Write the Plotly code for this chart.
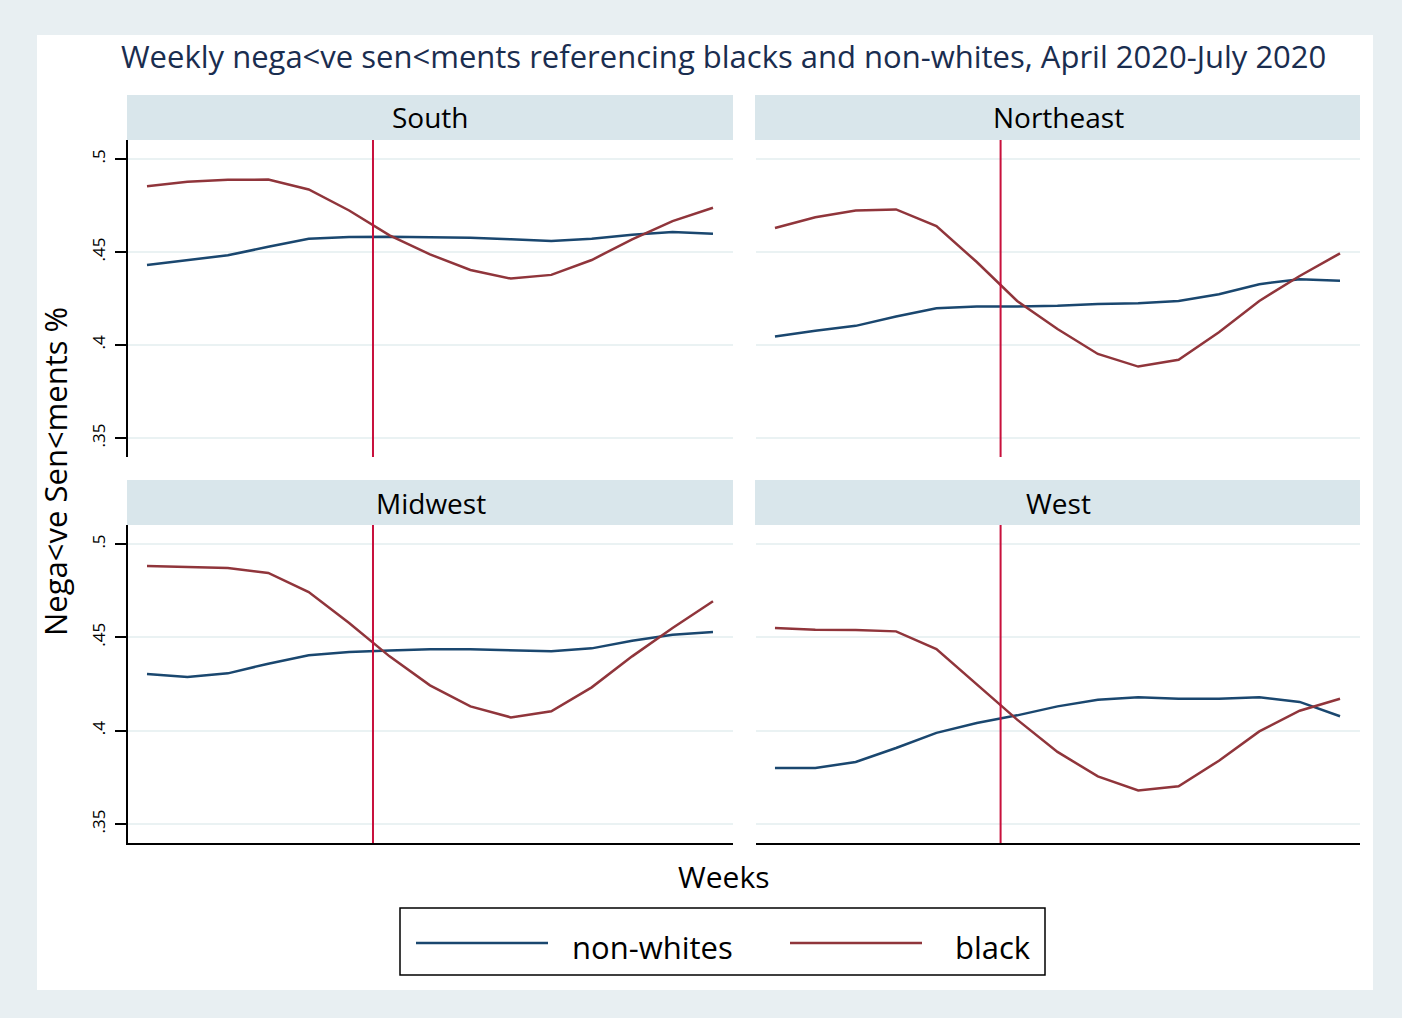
import plotly.graph_objects as go

# ---------------- data ----------------
WEEKS = list(range(1, 16))
EVENT_WEEK = 6.59
REGIONS = ["South", "Northeast", "Midwest", "West"]
SERIES = ["non-whites", "black"]

south_nonwhites = [0.4430, 0.4455, 0.4482, 0.4528, 0.4571, 0.4580, 0.4582, 0.4579,
                   0.4577, 0.4568, 0.4559, 0.4571, 0.4593, 0.4607, 0.4598]
south_black = [0.4854, 0.4877, 0.4888, 0.4889, 0.4836, 0.4723, 0.4589, 0.4487,
               0.4403, 0.4357, 0.4377, 0.4457, 0.4568, 0.4666, 0.4738]

northeast_nonwhites = [0.4046, 0.4077, 0.4103, 0.4153, 0.4198, 0.4207, 0.4207, 0.4211,
                       0.4220, 0.4225, 0.4237, 0.4273, 0.4327, 0.4354, 0.4345]
northeast_black = [0.4629, 0.4687, 0.4723, 0.4729, 0.4639, 0.4446, 0.4237, 0.4086,
                   0.3952, 0.3884, 0.3921, 0.4068, 0.4237, 0.4371, 0.4493]

midwest_nonwhites = [0.4304, 0.4287, 0.4307, 0.4359, 0.4404, 0.4421, 0.4430, 0.4436,
                     0.4436, 0.4429, 0.4425, 0.4441, 0.4482, 0.4514, 0.4529]
midwest_black = [0.4882, 0.4877, 0.4871, 0.4845, 0.4743, 0.4577, 0.4398, 0.4243,
                 0.4130, 0.4071, 0.4104, 0.4232, 0.4398, 0.4550, 0.4693]

west_nonwhites = [0.3800, 0.3800, 0.3832, 0.3907, 0.3988, 0.4041, 0.4082, 0.4130,
                  0.4166, 0.4179, 0.4171, 0.4171, 0.4179, 0.4154, 0.4077]
west_black = [0.4550, 0.4541, 0.4539, 0.4532, 0.4437, 0.4246, 0.4059, 0.3886,
              0.3755, 0.3680, 0.3702, 0.3839, 0.3996, 0.4107, 0.4171]

Y_TICKS = [0.35, 0.40, 0.45, 0.50]
Y_TICK_LABELS = [".35", ".4", ".45", ".5"]

TITLE = "Weekly nega<ve sen<ments referencing blacks and non-whites, April 2020-July 2020"
Y_TITLE = "Nega<ve Sen<ments %"
X_TITLE = "Weeks"

# ---------------- styling ----------------
W, H = 1402, 1018
FONT = "Open Sans"
NAVY = "#1a476f"
MAROON = "#90353b"
EVENT_COLOR = "#c8103c"
OUTER_BG = "#e8eff2"
STRIP_BG = "#d9e6eb"
GRID = "#eaf2f3"
TITLE_COLOR = "#1a2d4f"


def fx(px):
    return px / W


def fy(py):
    return 1 - py / H


# pixel boxes of each panel: (left, right, top, bottom)
PANEL_BOX = {
    "South": (128, 733, 140, 457),
    "Northeast": (756, 1360, 140, 457),
    "Midwest": (128, 733, 525, 843),
    "West": (756, 1360, 525, 843),
}
STRIP_H = 45
X_RANGE = [WEEKS[0] - 0.47, WEEKS[-1] + 0.495]
Y_RANGE = [0.3398, 0.5102]

data = {
    "South": (south_nonwhites, south_black),
    "Northeast": (northeast_nonwhites, northeast_black),
    "Midwest": (midwest_nonwhites, midwest_black),
    "West": (west_nonwhites, west_black),
}

fig = go.Figure()
shapes = []
annotations = []

# inner white graph region
shapes.append(dict(type="rect", xref="paper", yref="paper",
                   x0=fx(37), x1=fx(1373), y0=fy(990), y1=fy(35),
                   fillcolor="white", line=dict(width=0), layer="below"))

layout_axes = {}
for i, region in enumerate(REGIONS):
    n = "" if i == 0 else str(i + 1)
    l, r, t, b = PANEL_BOX[region]
    left_col = region in ("South", "Midwest")
    bottom_row = region in ("Midwest", "West")
    nonwhite, black = data[region]
    fig.add_trace(go.Scatter(x=WEEKS, y=nonwhite, mode="lines", name=SERIES[0],
                             line=dict(color=NAVY, width=2.5), showlegend=False,
                             xaxis="x" + n, yaxis="y" + n))
    fig.add_trace(go.Scatter(x=WEEKS, y=black, mode="lines", name=SERIES[1],
                             line=dict(color=MAROON, width=2.5), showlegend=False,
                             xaxis="x" + n, yaxis="y" + n))
    layout_axes["xaxis" + n] = dict(
        domain=[fx(l), fx(r)], range=X_RANGE, anchor="y" + n,
        showticklabels=False, ticks="", showgrid=False, zeroline=False,
        showline=bottom_row, linecolor="black", linewidth=2,
    )
    layout_axes["yaxis" + n] = dict(
        domain=[fy(b), fy(t)], range=Y_RANGE, anchor="x" + n,
        tickvals=Y_TICKS, ticktext=Y_TICK_LABELS, tickangle=-90,
        showticklabels=left_col, ticks="outside" if left_col else "",
        ticklen=11, tickwidth=1.5, tickcolor="black", ticklabelstandoff=3,
        tickfont=dict(family=FONT, size=17, color="black"),
        showline=left_col, linecolor="black", linewidth=2,
        showgrid=True, gridcolor=GRID, gridwidth=2, zeroline=False,
    )
    # event line
    shapes.append(dict(type="line", xref="x" + n, yref="y" + n + " domain",
                       x0=EVENT_WEEK, x1=EVENT_WEEK, y0=0, y1=1,
                       line=dict(color=EVENT_COLOR, width=2)))
    # strip header
    shapes.append(dict(type="rect", xref="paper", yref="paper",
                       x0=fx(l - 1), x1=fx(r), y0=fy(t), y1=fy(t - STRIP_H),
                       fillcolor=STRIP_BG, line=dict(width=0), layer="below"))
    annotations.append(dict(text=region, xref="paper", yref="paper",
                            x=fx((l + r) / 2), y=fy(t - STRIP_H / 2),
                            xanchor="center", yanchor="middle", showarrow=False,
                            font=dict(family=FONT, size=28, color="black")))

# titles
annotations.append(dict(text=TITLE, xref="paper", yref="paper", x=fx(723), y=fy(56),
                        xanchor="center", yanchor="middle", showarrow=False,
                        font=dict(family=FONT, size=31, color=TITLE_COLOR)))
annotations.append(dict(text=Y_TITLE, xref="paper", yref="paper", x=fx(55), y=fy(472),
                        xanchor="center", yanchor="middle", showarrow=False, textangle=-90,
                        font=dict(family=FONT, size=31, color="black")))
annotations.append(dict(text=X_TITLE, xref="paper", yref="paper", x=fx(723), y=fy(876),
                        xanchor="center", yanchor="middle", showarrow=False,
                        font=dict(family=FONT, size=30, color="black")))

# legend (drawn box)
shapes.append(dict(type="rect", xref="paper", yref="paper",
                   x0=fx(400), x1=fx(1045), y0=fy(975), y1=fy(908),
                   fillcolor="white", line=dict(color="black", width=1.5)))
for (x0, x1, tx, label, color) in [(416, 548, 570, SERIES[0], NAVY),
                                   (790, 922, 953, SERIES[1], MAROON)]:
    shapes.append(dict(type="line", xref="paper", yref="paper",
                       x0=fx(x0), x1=fx(x1), y0=fy(943), y1=fy(943),
                       line=dict(color=color, width=2.5)))
    annotations.append(dict(text=label, xref="paper", yref="paper", x=fx(tx), y=fy(947),
                            xanchor="left", yanchor="middle", showarrow=False,
                            font=dict(family=FONT, size=31, color="black")))

fig.update_layout(
    width=W, height=H, margin=dict(l=0, r=0, t=0, b=0),
    paper_bgcolor=OUTER_BG, plot_bgcolor="white",
    shapes=shapes, annotations=annotations, showlegend=False,
    font=dict(family=FONT),
    **layout_axes,
)

fig.write_html("out.html")
